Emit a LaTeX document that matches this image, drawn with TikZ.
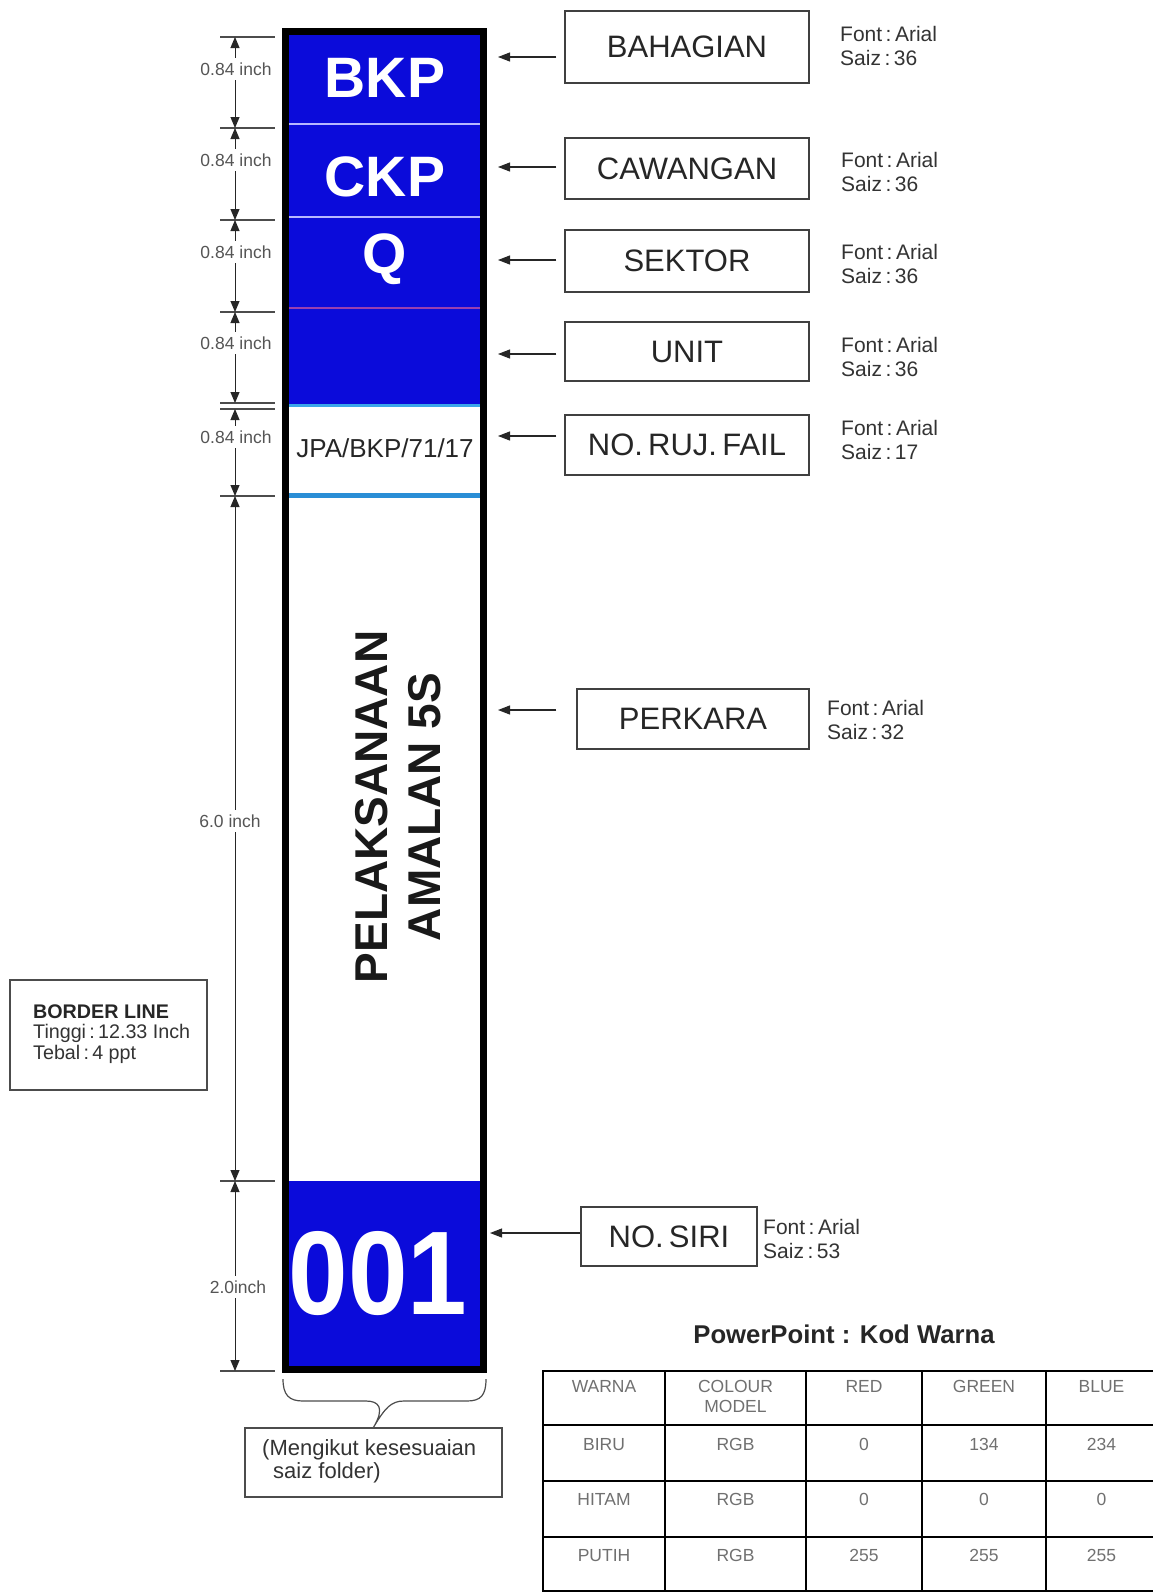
\documentclass[tikz,border=0pt]{standalone}
\usepackage{fontspec}
\setmainfont{Liberation Sans}
\usepackage{graphicx}
\usepackage{tikz}
\usetikzlibrary{arrows.meta,positioning,calc}
\definecolor{folderblue}{HTML}{0B0BDA}
\definecolor{stripeblue}{HTML}{3AA6EA}
\definecolor{rujblue}{HTML}{2A8ED6}
\definecolor{seamlight}{HTML}{B8B8FF}
\definecolor{seampurple}{HTML}{9A3FB0}
\definecolor{notegray}{HTML}{333333}
\definecolor{dimgray}{HTML}{555555}
\definecolor{tablegray}{HTML}{707070}
\newcommand{\StripCodeFont}{\fontsize{57pt}{60pt}\selectfont\bfseries}
\newcommand{\StripTitleFont}{\fontsize{46pt}{53pt}\selectfont\bfseries}
\newcommand{\StripSerialFont}{\fontsize{119pt}{120pt}\selectfont\bfseries}
\newcommand{\StripRefFont}{\fontsize{26pt}{28pt}\selectfont}
\newcommand{\FieldLabelFont}{\fontsize{31pt}{34pt}\selectfont}
\newcommand{\FontNoteFont}{\fontsize{21pt}{23.5pt}\selectfont}
\newcommand{\DimLabelFont}{\fontsize{17.5pt}{20pt}\selectfont}
\newcommand{\BorderNoteFont}{\fontsize{19.7pt}{20.5pt}\selectfont}
\newcommand{\SizeNoteFont}{\fontsize{22pt}{23pt}\selectfont}
\newcommand{\TableTitleFont}{\fontsize{25.7pt}{28pt}\selectfont\bfseries}
\newcommand{\TableCellFont}{\fontsize{17.5pt}{20pt}\selectfont}

\begin{document}
\begin{tikzpicture}[x=1pt,y=-1pt]
    \tikzset{
        strip seam/.style={line width=1.5pt},
        dim tick/.style={draw=black!70, line width=1.3pt},
        dim arrow/.style={{Triangle[length=11pt,width=9pt]}-{Triangle[length=11pt,width=9pt]},
            line width=1pt, draw=black!85},
        dim label/.style={font=\DimLabelFont, text=dimgray, fill=white,
            inner xsep=1pt, inner ysep=5pt},
        field box/.style={draw=black!75, line width=1.4pt, font=\FieldLabelFont,
            text=black!85, inner sep=0pt},
        field pointer/.style={-{Triangle[length=12pt,width=9pt]}, line width=1.1pt, draw=black!85},
        font note/.style={font=\FontNoteFont, text=notegray, align=left, anchor=west, inner sep=0pt},
        note box/.style={draw=black!70, line width=1.4pt, inner sep=0pt},
        table rule/.style={line width=1.8pt},
        table cell/.style={font=\TableCellFont, text=tablegray, align=center,
            anchor=north, inner sep=0pt}
    }
    \useasboundingbox (0,0) rectangle (1152,1593);

    % folder strip
    \fill[folderblue] (282,28) rectangle (487,404);
    \fill[folderblue] (282,1181) rectangle (487,1373);
    \draw[strip seam, seamlight] (282,124) -- (487,124);
    \draw[strip seam, seamlight] (282,217) -- (487,217);
    \draw[line width=1.2pt, seampurple] (282,308) -- (487,308);
    \draw[line width=3.5pt, stripeblue] (282,405.5) -- (487,405.5);
    \draw[line width=4.5pt, rujblue] (282,495.5) -- (487,495.5);
    \draw[line width=7pt] (285.5,31.5) rectangle (483.5,1369.5);

    \node[font=\StripCodeFont, text=white, inner sep=0pt] (strip-bkp) at (385,78) {BKP};
    \node[font=\StripCodeFont, text=white, inner sep=0pt] (strip-ckp) at (385,177) {CKP};
    \node[font=\StripCodeFont, text=white, inner sep=0pt] (strip-q) at (385,259) {Q};
    \node[font=\StripRefFont, text=black!85, inner sep=0pt] (strip-ruj) at (385,448) {JPA/BKP/71/17};
    \node[font=\StripTitleFont, text=black!90, rotate=90, align=center, inner sep=0pt]
        (strip-title) at (398,807) {PELAKSANAAN\\AMALAN 5S};
    \node[font=\StripSerialFont, text=white, inner sep=0pt]
        (strip-serial) at (378,1274) {\scalebox{0.9}[1]{001}};

    % dimensions
    \foreach \y [count=\i] in {37,128,220,312,403,409,496,1181,1371} {
        \coordinate (tick-\i) at (235,\y);
        \draw[dim tick] (220,\y) -- (275,\y);
    }
    \foreach \from/\to/\lx/\ly/\dimtext in {1/2/236/69/0.84 inch, 2/3/236/160/0.84 inch,
            3/4/236/252/0.84 inch, 4/5/236/343/0.84 inch, 6/7/236/437/0.84 inch,
            7/8/230/821/6.0 inch, 8/9/238/1287/2.0inch} {
        \draw[dim arrow] (tick-\from) -- (tick-\to);
        \node[dim label] (dim-\from) at (\lx,\ly) {\dimtext};
    }

    % field boxes
    \foreach \field/\fieldname/\cx/\cy/\w/\h/\ay/\tipx/\gap/\nx/\ny/\fsize in {
            bahagian/BAHAGIAN/687/47/244/72/57/498/8/840/46/36,
            cawangan/CAWANGAN/687/168.5/244/61/167/498/8/841/172/36,
            sektor/SEKTOR/687/261/244/62/260/498/8/841/264/36,
            unit/UNIT/687/351.5/244/59/354/498/8/841/357/36,
            rujukan/{NO.\,RUJ.\,FAIL}/687/445/244/60/436/498/8/841/440/17,
            perkara/PERKARA/693/719/232/60/710/498/20/827/720/32,
            siri/{NO.\,SIRI}/669/1236.5/176/59/1233/490/0/763/1239/53} {
        \node[field box, minimum width=\w pt, minimum height=\h pt] (field-\field) at (\cx,\cy) {\fieldname};
        \coordinate (tip-\field) at (\tipx,\ay);
        \draw[field pointer, shorten <=\gap pt] (field-\field.west |- tip-\field) -- (tip-\field);
        \node[font note] (note-\field) at (\nx,\ny) {Font\,:\,Arial\\Saiz\,:\,\fsize};
    }

    % border note
    \node[note box, minimum width=197pt, minimum height=110pt] (border-box) at (108.5,1035) {};
    \node[font=\BorderNoteFont, text=notegray, align=left, anchor=west, inner sep=0pt]
        (border-note) at (33,1034) {{\bfseries\color{black!85}BORDER LINE}\\Tinggi\,:\,12.33 Inch\\Tebal\,:\,4 ppt};

    % folder width brace
    \node[note box, minimum width=257pt, minimum height=69pt] (size-box) at (373.5,1462.5) {};
    \draw[line width=1.2pt, draw=black!70] (283,1379) .. controls (283,1395) and (289,1401) .. (303,1401)
        -- (366,1401) .. controls (379,1401) and (385,1408) .. (size-box.north)
        .. controls (385,1408) and (391,1401) .. (404,1401)
        -- (467,1401) .. controls (481,1401) and (486,1395) .. (486,1379);
    \node[font=\SizeNoteFont, text=notegray, align=left, anchor=west, inner sep=0pt]
        (size-note) at (262,1461) {(Mengikut kesesuaian\\\hspace*{0.5em}saiz folder)};

    % colour table
    \node[font=\TableTitleFont, text=black!85, inner sep=0pt] (table-title) at (844,1334) {PowerPoint : Kod Warna};
    \foreach \x in {665,806,922,1046}
        \draw[table rule] (\x,1371) -- (\x,1591);
    \foreach \y in {1425,1481,1537}
        \draw[table rule] (543,\y) -- (1160,\y);
    \draw[table rule, line width=2.6pt] (543,1371) rectangle (1157,1591);
    \foreach \row/\ty/\warna/\model/\red/\green/\blue in {
            head/1380/WARNA/{COLOUR\\MODEL}/RED/GREEN/BLUE,
            biru/1438/BIRU/RGB/0/134/234,
            hitam/1493/HITAM/RGB/0/0/0,
            putih/1549/PUTIH/RGB/255/255/255} {
        \node[table cell] (cell-\row-warna) at (604,\ty) {\warna};
        \node[table cell] (cell-\row-model) at (735.5,\ty) {\model};
        \node[table cell] (cell-\row-red) at (864,\ty) {\red};
        \node[table cell] (cell-\row-green) at (984,\ty) {\green};
        \node[table cell] (cell-\row-blue) at (1101.5,\ty) {\blue};
    }
\end{tikzpicture}
\end{document}
